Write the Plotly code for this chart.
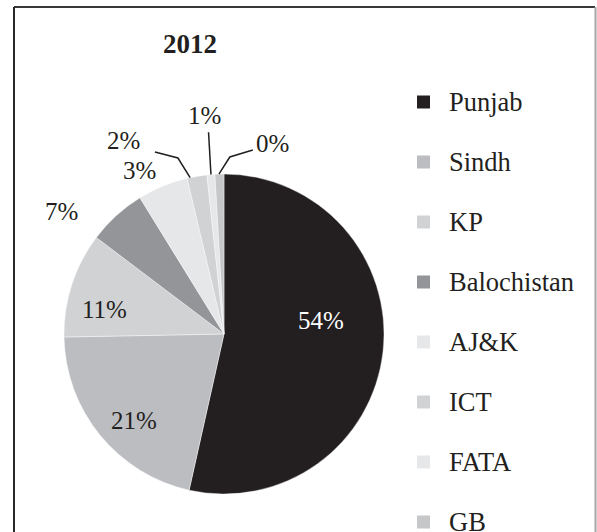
import numpy as np
import plotly.graph_objects as go

# ---- data ----
title = "2012"
regions = ["Punjab", "Sindh", "KP", "Balochistan", "AJ&K", "ICT", "FATA", "GB"]
shares = [53.5, 21.2, 10.6, 5.9, 5.1, 2.0, 0.8, 0.9]          # slice sizes as drawn
share_labels = ["54%", "21%", "11%", "7%", "3%", "2%", "1%", "0%"]  # printed labels

# ---- style ----
colors = ["#231f20", "#bcbdc0", "#d1d2d4", "#939598", "#e6e7e8", "#d1d2d4", "#e6e7e8", "#c6c7c9"]
label_colors = ["white"] + ["#231f20"] * 7
# label placement: offset from slice mid-angle (deg) and radius factor
label_dang = [-14.3, -4.75, -6.6, -10.7, -4.9, -17.6, -0.3, 15.8]
label_rad = [0.61, 0.78, 0.76, 1.275, 1.148, 1.364, 1.368, 1.225]
# leader lines (index -> (start angle offset, elbow angle offset, elbow radius, end dx px, end dy px))
leaders = {5: (-2.5, -4.95, 1.137, -23, -6), 6: (0, 0.3, 1.265, 0, 0), 7: (-0.2, 3.5, 1.107, 23, -7)}

W, H = 597, 532
CX, CY, R = 224, 334, 160
FONT = "Liberation Serif, Times New Roman, serif"


def px(x, y):
    return x / W, 1 - y / H


def polar(ang, rf):
    a = np.deg2rad(ang)
    return CX + R * rf * np.sin(a), CY - R * rf * np.cos(a)


vals = np.array(shares, dtype=float)
cum = np.cumsum(vals) / vals.sum() * 360
starts = np.concatenate([[0], cum[:-1]])
mids = (starts + cum) / 2

fig = go.Figure()
dx0, dy1 = px(CX - R, CY - R)
dx1, dy0 = px(CX + R, CY + R)
fig.add_trace(go.Pie(
    labels=regions, values=shares, sort=False, direction="clockwise", rotation=0,
    marker=dict(colors=colors, line=dict(color="white", width=0.4)),
    textinfo="none", hoverinfo="skip", showlegend=False,
    domain=dict(x=[dx0, dx1], y=[dy0, dy1]),
))

annotations = []
shapes = []

# slice labels
for i, lab in enumerate(share_labels):
    x, y = polar(mids[i] + label_dang[i], label_rad[i])
    xp, yp = px(x, y)
    annotations.append(dict(x=xp, y=yp, xref="paper", yref="paper", text=lab, showarrow=False,
                            xanchor="center", yanchor="middle",
                            font=dict(family=FONT, size=25, color=label_colors[i])))

# leader lines
for i, (sa, da, er, ddx, ddy) in leaders.items():
    x0, y0 = polar(mids[i] + sa, 1.0)
    x1, y1 = polar(mids[i] + da, er)
    x2, y2 = x1 + ddx, y1 + ddy
    pts = [px(x0, y0), px(x1, y1), px(x2, y2)]
    path = "M {} {} L {} {} L {} {}".format(*[c for p in pts for c in p])
    shapes.append(dict(type="path", path=path, xref="paper", yref="paper",
                       line=dict(color="#231f20", width=1.5)))

# title
tx, ty = px(190, 44)
annotations.append(dict(x=tx, y=ty, xref="paper", yref="paper", text="<b>%s</b>" % title,
                        showarrow=False, xanchor="center", yanchor="middle",
                        font=dict(family=FONT, size=27, color="#231f20")))

# manual legend
for i, name in enumerate(regions):
    yc = 102 + 60 * i
    x0, y0 = px(417, yc - 6.5)
    x1, y1 = px(430, yc + 6.5)
    shapes.append(dict(type="rect", xref="paper", yref="paper", x0=x0, x1=x1, y0=y1, y1=y0,
                       fillcolor=colors[i], line=dict(width=0)))
    lx, ly = px(447, yc)
    annotations.append(dict(x=lx, y=ly, xref="paper", yref="paper", text=name, showarrow=False,
                            xanchor="left", yanchor="middle",
                            font=dict(family=FONT, size=26.5, color="#231f20")))

# frame
for (xa, ya, xb, yb, col) in [(14, 7, 595, 7, "#3a3738"), (14, 7, 14, 545, "#2b2829"),
                              (595.5, 7, 595.5, 545, "#a6a6a6")]:
    a = px(xa, ya)
    b = px(xb, yb)
    shapes.append(dict(type="line", xref="paper", yref="paper", x0=a[0], y0=a[1], x1=b[0], y1=b[1],
                       line=dict(color=col, width=2)))

fig.update_layout(
    width=W, height=H, margin=dict(l=0, r=0, t=0, b=0),
    paper_bgcolor="white", plot_bgcolor="white",
    annotations=annotations, shapes=shapes, showlegend=False,
)

fig.write_html(
    "out.html",
    config={"displayModeBar": False},
    post_script="document.body.style.margin='0';document.body.style.overflow='hidden';",
)
